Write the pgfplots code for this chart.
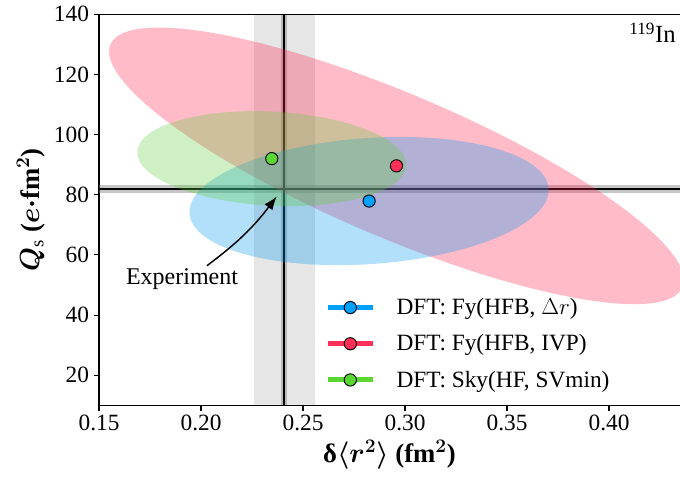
\documentclass[border=0pt]{standalone}
\usepackage{pgfplots}
\pgfplotsset{compat=1.18}
\usepackage{fontspec}
\setmainfont{Liberation Serif}
\usepackage{bm}
\usetikzlibrary{arrows.meta,calc}
\definecolor{cblue}{RGB}{0,160,255}
\definecolor{cred}{RGB}{255,48,88}
\definecolor{cgreen}{RGB}{90,215,50}
\definecolor{cpink}{RGB}{255,32,74}
\definecolor{cbluef}{RGB}{0,152,240}
\definecolor{cgreenf}{RGB}{95,205,58}
\begin{document}
\begin{tikzpicture}
\begin{axis}[
  name=ax,
  scale only axis,
  width=435.75pt, height=293.25pt,
  xmin=0.15, xmax=0.4348, ymin=10, ymax=140,
  axis lines=left,
  axis line style={-, line width=1pt, black},
  xtick={0.15,0.20,0.25,0.30,0.35,0.40},
  ytick={20,40,60,80,100,120,140},
  tick align=outside,
  major tick length=4pt,
  every tick/.style={black, line width=0.8pt},
  /pgf/number format/assume math mode=true,
  xticklabel style={/pgf/number format/.cd, fixed, fixed zerofill, precision=2, /tikz/.cd},
  ticklabel style={font=\fontsize{17.5}{21}\selectfont},
  xlabel={\textbf{δ}$\bm{\langle r^{2}\rangle}$ \textbf{(fm}$^{\bm{2}}$\textbf{)}},
  ylabel={$\bm{Q}_{\mathrm{s}}$ \textbf{(}$\bm{e\cdot}$\textbf{fm}$^{\bm{2}}$\textbf{)}},
  label style={font=\fontsize{20}{23}\selectfont},
  legend style={at={(rel axis cs:0.389,0.034)}, anchor=south west, draw=none, fill=none,
    font=\fontsize{17.5}{21}\selectfont, row sep=9.5pt, inner sep=0pt,
    /tikz/every odd column/.append style={column sep=14pt}},
  legend cell align=left,
  clip=true,
]
% experimental bands
\addplot[draw=none, fill=gray, fill opacity=0.2, forget plot] coordinates {(0.226,10) (0.256,10) (0.256,140) (0.226,140)} -- cycle;
\addplot[draw=none, fill=gray, fill opacity=0.45, forget plot] coordinates {(0.2392,10) (0.2422,10) (0.2422,140) (0.2392,140)} -- cycle;
\addplot[draw=none, fill=gray, fill opacity=0.45, forget plot] coordinates {(0.15,80.7) (0.4348,80.7) (0.4348,83.2) (0.15,83.2)} -- cycle;
\addplot[black, line width=1.6pt, forget plot] coordinates {(0.2407,10) (0.2407,140)};
\addplot[black, line width=1.6pt, forget plot] coordinates {(0.15,82.0) (0.4348,82.0)};
% ellipses
\fill[cpink, fill opacity=0.3, rotate around={-23:(axis cs:0.2958,89.6)}] (axis cs:0.2958,89.6) ellipse [x radius=233pt, y radius=54pt];
\fill[cbluef, fill opacity=0.3, rotate around={4:(axis cs:0.2824,77.9)}] (axis cs:0.2824,77.9) ellipse [x radius=135pt, y radius=47.25pt];
\fill[cgreenf, fill opacity=0.3, rotate around={-3:(axis cs:0.2347,92.0)}] (axis cs:0.2347,92.0) ellipse [x radius=101pt, y radius=35.25pt];
% points
\addplot[only marks, mark=*, mark size=4.6pt, mark options={draw=black, fill=cblue, line width=0.7pt}, forget plot] coordinates {(0.2824,77.9)};
\addplot[only marks, mark=*, mark size=4.6pt, mark options={draw=black, fill=cred, line width=0.7pt}, forget plot] coordinates {(0.2958,89.6)};
\addplot[only marks, mark=*, mark size=4.6pt, mark options={draw=black, fill=cgreen, line width=0.7pt}, forget plot] coordinates {(0.2347,92.0)};
% legend
\addlegendimage{legend image code/.code={\draw[cblue, line width=3.75pt] (0pt,0pt) -- (33.75pt,0pt); \draw[black, fill=cblue, line width=0.7pt] (16.9pt,0pt) circle (4.6pt);}}
\addlegendentry{DFT: Fy(HFB, $\Delta r$)}
\addlegendimage{legend image code/.code={\draw[cred, line width=3.75pt] (0pt,0pt) -- (33.75pt,0pt); \draw[black, fill=cred, line width=0.7pt] (16.9pt,0pt) circle (4.6pt);}}
\addlegendentry{DFT: Fy(HFB, IVP)}
\addlegendimage{legend image code/.code={\draw[cgreen, line width=3.75pt] (0pt,0pt) -- (33.75pt,0pt); \draw[black, fill=cgreen, line width=0.7pt] (16.9pt,0pt) circle (4.6pt);}}
\addlegendentry{DFT: Sky(HF, SVmin)}
% annotation
\draw[-{Latex[length=10pt,width=7.5pt]}, line width=1.1pt] (axis cs:0.2029,56.4) to[bend right=8] (axis cs:0.2371,79.4);
\node[font=\fontsize{18}{21}\selectfont] at (axis cs:0.1907,51.8) {Experiment};
\end{axis}
\draw[line width=1pt] (ax.north west) -- (ax.north east);
\node[anchor=north east, inner sep=0pt, font=\fontsize{18.5}{22}\selectfont] at ($(ax.north east)+(-3pt,-6.5pt)$) {\textsuperscript{119}In};
\pgfresetboundingbox
\path[use as bounding box] ($(ax.south west)+(-74.25pt,-56.8pt)$) rectangle ($(ax.north east)+(0pt,10.7pt)$);
\end{tikzpicture}
\end{document}
